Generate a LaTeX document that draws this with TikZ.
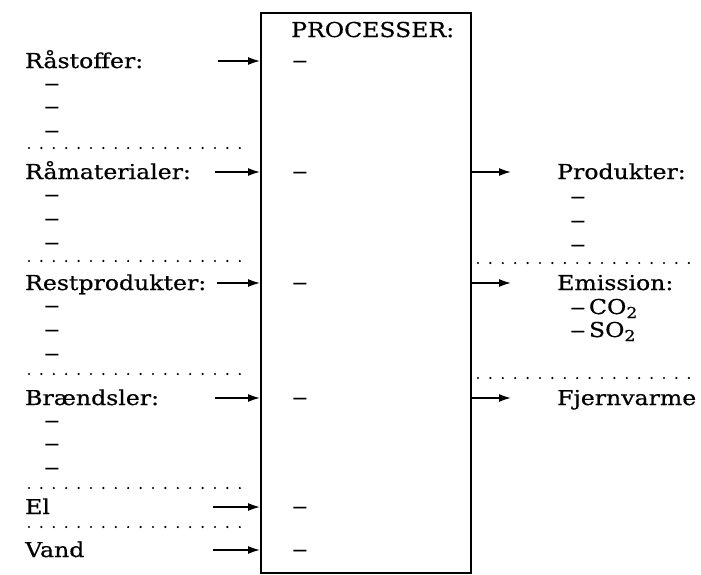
\documentclass[tikz,border=0pt]{standalone}
\usepackage{fontspec}
\setmainfont{DejaVu Serif}[FakeStretch=1.15,FakeBold=0.6]
\newfontfamily\dashfont{DejaVu Serif}[FakeStretch=1.5,FakeBold=1.2]
\usetikzlibrary{arrows.meta}
\newcommand{\subtwo}{\raisebox{-4pt}{\fontsize{15}{15}\selectfont 2}}
\tikzset{
  lbl/.style={anchor=base west, inner sep=0pt, font=\fontsize{20.5}{24}\selectfont},
  dsh/.style={anchor=base west, inner sep=0pt, font=\dashfont\fontsize{20.5}{24}\selectfont},
  arr/.style={line width=1.6pt, -{Latex[length=12pt,width=8pt]}},
  dots/.style={line width=2.4pt, dash pattern=on 0pt off 12.4pt, line cap=round},
}
\begin{document}
\begin{tikzpicture}[x=1pt,y=-1pt]
\useasboundingbox (0,0) rectangle (701,574);
% process box
\node[draw, line width=2.2pt, minimum width=210pt, minimum height=560pt, anchor=north west, inner sep=0pt] (box) at (260,12) {};
\node[lbl] (proc) at (291,37) {PROCESSER:};
% left labels
\node[lbl] (raastof) at (25,68) {Råstoffer:};
\node[dsh] (l1a) at (44,90) {–};
\node[dsh] (l1b) at (44,113) {–};
\node[dsh] (l1c) at (44,137) {–};
\node[lbl] (raamat) at (25,179) {Råmaterialer:};
\node[dsh] (l2a) at (44,201) {–};
\node[dsh] (l2b) at (44,225) {–};
\node[dsh] (l2c) at (44,249) {–};
\node[lbl] (rest) at (25,290) {Restprodukter:};
\node[dsh] (l3a) at (44,312) {–};
\node[dsh] (l3b) at (44,336) {–};
\node[dsh] (l3c) at (44,360) {–};
\node[lbl] (braend) at (25,405) {Brændsler:};
\node[dsh] (l4a) at (44,427) {–};
\node[dsh] (l4b) at (44,450) {–};
\node[dsh] (l4c) at (44,474) {–};
\node[lbl] (el) at (25,514) {El};
\node[lbl] (vand) at (25,557) {Vand};
% dashes in box
\node[dsh] (b1) at (292,67) {–};
\node[dsh] (b2) at (292,178) {–};
\node[dsh] (b3) at (292,289) {–};
\node[dsh] (b4) at (292,404) {–};
\node[dsh] (b5) at (292,513) {–};
\node[dsh] (b6) at (292,556) {–};
% right labels
\node[lbl] (prod) at (557,179) {Produkter:};
\node[dsh] (r1a) at (570,203) {–};
\node[dsh] (r1b) at (570,227) {–};
\node[dsh] (r1c) at (570,251) {–};
\node[lbl] (emis) at (557,290) {Emission:};
\node[lbl] (co2) at (570,314) {{\dashfont –}\,CO\subtwo};
\node[lbl] (so2) at (570,337) {{\dashfont –}\,SO\subtwo};
\node[lbl] (fjern) at (557,405) {Fjernvarme};
% dotted separators
\coordinate (dl1) at (29,148); \coordinate (dr1) at (243,148);
\coordinate (dl2) at (29,261); \coordinate (dr2) at (243,261);
\coordinate (dl3) at (29,374); \coordinate (dr3) at (243,374);
\coordinate (dl4) at (29,488); \coordinate (dr4) at (243,488);
\coordinate (dl5) at (29,527); \coordinate (dr5) at (243,527);
\coordinate (el1) at (478,263); \coordinate (er1) at (700,263);
\coordinate (el2) at (478,378); \coordinate (er2) at (700,378);
\foreach \a/\b in {dl1/dr1,dl2/dr2,dl3/dr3,dl4/dr4,dl5/dr5,el1/er1,el2/er2}
  \draw[dots] (\a) -- (\b);
% input arrows
\coordinate (i1) at (218,61);
\coordinate (i2) at (215,172);
\coordinate (i3) at (217,283);
\coordinate (i4) at (215,398);
\coordinate (i5) at (213,507);
\coordinate (i6) at (213,550);
\foreach \c in {i1,i2,i3,i4,i5,i6}
  \draw[arr] (\c) -- (\c -| box.west);
% output arrows
\coordinate (o1) at (511,172);
\coordinate (o2) at (511,283);
\coordinate (o3) at (511,398);
\foreach \c in {o1,o2,o3}
  \draw[arr] (\c -| box.east) -- (\c);
\end{tikzpicture}
\end{document}
